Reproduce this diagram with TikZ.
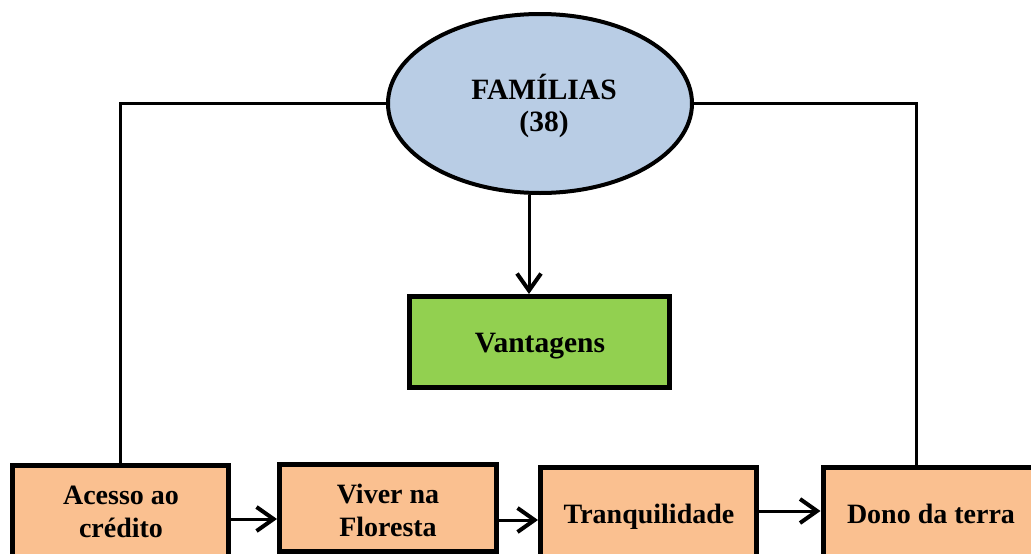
\documentclass[tikz,border=0pt]{standalone}
\usepackage{fontspec}
\setmainfont{Liberation Serif}
\usetikzlibrary{shapes.geometric,arrows.meta}
\definecolor{famblue}{HTML}{B9CDE5}
\definecolor{vangreen}{HTML}{92D050}
\definecolor{boxorange}{HTML}{FAC090}
\tikzset{
  obox/.style={draw=black, line width=5pt, fill=boxorange, inner sep=0pt},
  txt/.style={font=\bfseries\fontsize{28}{33}\selectfont, align=center, inner sep=0pt, anchor=base},
  conn/.style={line width=3pt, line cap=rect},
  arr/.style={line width=3pt, -{Straight Barb[length=17pt,width=24pt,line width=4pt]}},
}
\begin{document}
\begin{tikzpicture}[x=1pt,y=-1pt]
\useasboundingbox (0,0) rectangle (1031,554);
\clip (0,0) rectangle (1031,554);
\fill[white] (0,0) rectangle (1031,554);
% helper coordinates
\coordinate (ad) at (529,0);
\coordinate (rv) at (916,0);
\coordinate (y1) at (0,519);
\coordinate (y2) at (0,520);
\coordinate (y3) at (0,511);
% main nodes
\node[ellipse, draw=black, line width=4pt, fill=famblue, inner sep=0pt,
      minimum width=304pt, minimum height=179pt] (fam) at (540,103.5) {};
\node[draw=black, line width=5pt, fill=vangreen, inner sep=0pt,
      minimum width=260pt, minimum height=91pt] (van) at (539.5,342) {};
\node[obox, minimum width=216pt, minimum height=110pt] (b1) at (120.5,520.5) {};
\node[obox, minimum width=217pt, minimum height=87pt] (b2) at (388,508) {};
\node[obox, minimum width=216pt, minimum height=110pt] (b3) at (648.5,522.5) {};
\node[obox, minimum width=220pt, minimum height=110pt] (b4) at (933,522.5) {};
% texts (base anchor = baseline of the last line)
\node[txt, font=\bfseries\fontsize{29.5}{32}\selectfont] (tfam) at (544,131) {FAMÍLIAS\\(38)};
\node[txt, font=\bfseries\fontsize{29.5}{33}\selectfont] (tvan) at (540,352) {Vantagens};
\node[txt] (t1) at (121,537) {Acesso ao\\crédito};
\node[txt] (t2) at (388,536) {Viver na\\Floresta};
\node[txt] (t3) at (649,523) {Tranquilidade};
\node[txt] (t4) at (931,523) {Dono da terra};
% connectors
\draw[conn] (fam.west) -| (b1.north);
\draw[conn] (fam.east) -| (b4.north -| rv);
\draw[arr] (fam.south -| ad) -- (van.north -| ad);
\draw[arr] (b1.east |- y1) -- (b2.west |- y1);
\draw[arr] (b2.east |- y2) -- (b3.west |- y2);
\draw[arr] (b3.east |- y3) -- (b4.west |- y3);
\end{tikzpicture}
\end{document}
